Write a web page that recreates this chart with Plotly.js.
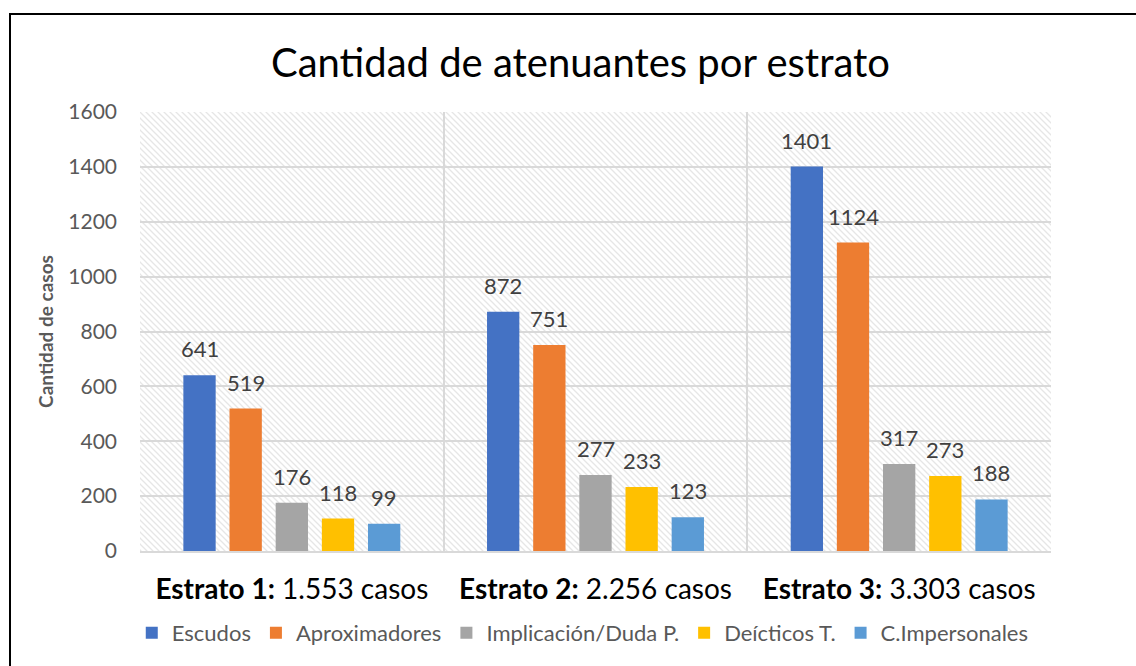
<!DOCTYPE html>
<html>
<head>
<meta charset="utf-8">
<script src="https://cdn.plot.ly/plotly-3.0.1.min.js"></script>
<style>
  html, body { margin: 0; padding: 0; background: #fff; }
  #wrap { position: relative; width: 1136px; height: 666px; }
  #chart { width: 1136px; height: 666px; }
  #frame { position: absolute; left: 9px; top: 13px; width: 1200px; height: 700px;
           border-left: 2px solid #000; border-top: 2px solid #000; pointer-events: none; }
</style>
</head>
<body>
<div id="wrap">
  <div id="chart"></div>
  <div id="frame"></div>
</div>
<script>
// ---- data ----
const categories = ["Estrato 1", "Estrato 2", "Estrato 3"];
const categoryLabels = ["<b>Estrato 1:</b> 1.553 casos", "<b>Estrato 2:</b> 2.256 casos", "<b>Estrato 3:</b> 3.303 casos"];
const seriesNames = ["Escudos", "Aproximadores", "Implicación/Duda P.", "Deícticos T.", "C.Impersonales"];
const escudos = [641, 872, 1401];
const aproximadores = [519, 751, 1124];
const implicacion = [176, 277, 317];
const deicticos = [118, 233, 273];
const impersonales = [99, 123, 188];
const seriesColors = ["#4472C4", "#ED7D31", "#A5A5A5", "#FFC000", "#5B9BD5"];
const yTicks = [0, 200, 400, 600, 800, 1000, 1200, 1400, 1600];

const allSeries = [escudos, aproximadores, implicacion, deicticos, impersonales];

const FONT = "Lato, 'Open Sans', sans-serif";
const L = 140, R = 85, T = 112, B = 115, W = 1136, H = 666;
const plotW = W - L - R;
const bargap = 0.24;
const slotPx = plotW / categories.length * (1 - bargap) / allSeries.length;

const traces = allSeries.map((vals, i) => ({
  type: "bar",
  name: seriesNames[i],
  x: categories,
  y: vals,
  marker: { color: seriesColors[i], line: { width: 0 } },
  hoverinfo: "x+y+name"
}));

const annotations = [];
allSeries.forEach((vals, i) => {
  vals.forEach((v, j) => {
    annotations.push({
      x: categories[j], y: v, xref: "x", yref: "y",
      text: String(v), showarrow: false,
      xanchor: "center", yanchor: "bottom",
      xshift: (i - (allSeries.length - 1) / 2) * slotPx,
      yshift: 11,
      font: { family: FONT, size: 22, color: "#404040" }
    });
  });
});

// hatch background
const svgPat = `<svg xmlns="http://www.w3.org/2000/svg" width="${plotW}" height="${H - T - B}">` +
  `<defs><pattern id="p" width="6" height="6" patternUnits="userSpaceOnUse">` +
  `<rect width="6" height="6" fill="#ffffff"/>` +
  `<path d="M-1,-1 L7,7 M-4,2 L1,7 M2,-4 L7,1" stroke="#e6e6e6" stroke-width="1.3"/>` +
  `</pattern></defs><rect width="100%" height="100%" fill="url(#p)"/></svg>`;
const bgSrc = "data:image/svg+xml;charset=utf-8," + encodeURIComponent(svgPat);

const layout = {
  width: W, height: H,
  margin: { l: L, r: R, t: T, b: B },
  paper_bgcolor: "#ffffff",
  plot_bgcolor: "#ffffff",
  barmode: "group",
  bargap: bargap,
  bargroupgap: 0.3,
  title: {
    text: "Cantidad de atenuantes por estrato",
    font: { family: FONT, size: 40, color: "#000000" },
    xref: "container", x: 0.511, xanchor: "center",
    yref: "container", y: 1 - 63 / H, yanchor: "middle"
  },
  xaxis: {
    type: "category",
    tickvals: categories,
    ticktext: categoryLabels,
    tickson: "boundaries",
    ticks: "",
    showgrid: true,
    gridcolor: "#d9d9d9",
    gridwidth: 2,
    showline: true,
    linecolor: "#d9d9d9",
    linewidth: 2,
    tickfont: { family: FONT, size: 28, color: "#000000" },
    ticklabelstandoff: 12,
    fixedrange: true
  },
  yaxis: {
    range: [0, 1600],
    tickvals: yTicks,
    ticktext: yTicks.map(String),
    showgrid: true,
    gridcolor: "#d9d9d9",
    gridwidth: 2,
    zeroline: false,
    showline: false,
    ticks: "",
    tickfont: { family: FONT, size: 21, color: "#595959" },
    ticklabelstandoff: 22,
    title: {
      text: "<b>Cantidad de casos</b>",
      font: { family: FONT, size: 19, color: "#595959" },
      standoff: 9
    },
    fixedrange: true
  },
  legend: {
    orientation: "h",
    xref: "container", yref: "container",
    x: 0.513, xanchor: "center",
    y: 1 - 633 / H, yanchor: "middle",
    font: { family: FONT, size: 22, color: "#595959" },
    itemwidth: 30,
    itemclick: false, itemdoubleclick: false,
    tracegroupgap: 0
  },
  images: [{
    source: bgSrc, xref: "paper", yref: "paper",
    x: 0, y: 1, sizex: 1, sizey: 1,
    sizing: "stretch", layer: "below", xanchor: "left", yanchor: "top"
  }],
  annotations: annotations,
  showlegend: true
};

Plotly.newPlot("chart", traces, layout, { displayModeBar: false, staticPlot: false });
</script>
</body>
</html>
